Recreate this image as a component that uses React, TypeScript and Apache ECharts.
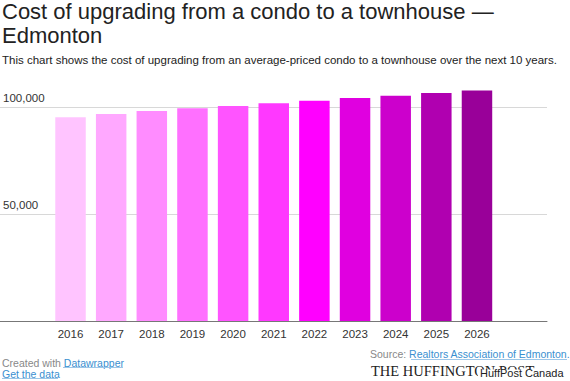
import React, { useEffect, useRef } from "react";
import * as echarts from "echarts";

const years = ["2016", "2017", "2018", "2019", "2020", "2021", "2022", "2023", "2024", "2025", "2026"];
const costs = [95300, 96900, 98300, 99500, 100600, 101900, 103100, 104300, 105400, 106700, 107900];
const barColors = ["#ffc4ff", "#ffa8ff", "#ff8cff", "#ff70ff", "#ff54ff", "#ff38ff", "#ff00ff", "#e000e0", "#cc00cc", "#b000b0", "#990099"];
const yTicks = [0, 50000, 100000];

const titleText = "Cost of upgrading from a condo to a townhouse —";
const titleText2 = "Edmonton";
const subtitleText = "This chart shows the cost of upgrading from an average-priced condo to a townhouse over the next 10 years.";

const FONT = "'Liberation Sans', Arial, sans-serif";
const LINK = "#3a8fd0";

export default function App() {
  const ref = useRef<HTMLDivElement>(null);
  useEffect(() => {
    if (!ref.current) return;
    const chart = echarts.init(ref.current, null, { renderer: "svg" });
    const baseY = 321;
    const topGrid = 107.3;
    const pxPer = (baseY - topGrid) / yTicks[yTicks.length - 1];
    const barMax = 110000;
    const barTop = baseY - barMax * pxPer;
    chart.setOption({
      animation: false,
      backgroundColor: "#ffffff",
      textStyle: { fontFamily: FONT },
      grid: [
        { left: 0, right: 23, top: topGrid, bottom: 381 - baseY },
        { left: 50.2, right: 72.7, top: barTop, bottom: 381 - baseY },
      ],
      xAxis: [
        {
          type: "value",
          gridIndex: 0,
          min: 0,
          max: 1,
          axisLine: { show: true, onZero: false, lineStyle: { color: "#777", width: 1 } },
          axisTick: { show: false },
          axisLabel: { show: false },
          splitLine: { show: false },
        },
        {
          type: "category",
          gridIndex: 1,
          data: years,
          axisLine: { show: false },
          axisTick: { show: false },
          axisLabel: { color: "#333", fontSize: 11.5, margin: 7, fontFamily: FONT },
        },
      ],
      yAxis: [
        {
          type: "value",
          gridIndex: 0,
          min: 0,
          max: 100000,
          interval: 50000,
          axisLine: { show: false },
          axisTick: { show: false },
          splitLine: { show: true, lineStyle: { color: "#d8d8d8", width: 1 } },
          axisLabel: {
            inside: true,
            margin: 3,
            verticalAlign: "bottom",
            padding: [0, 0, 3, 0],
            color: "#333",
            fontSize: 11.5,
            fontFamily: FONT,
            showMinLabel: false,
            formatter: (v: number) => v.toLocaleString("en-US"),
          },
        },
        {
          type: "value",
          gridIndex: 1,
          min: 0,
          max: barMax,
          show: false,
          splitLine: { show: false },
        },
      ],
      series: [
        {
          type: "bar",
          xAxisIndex: 1,
          yAxisIndex: 1,
          barCategoryGap: "25%",
          data: costs.map((v, i) => ({ value: v, itemStyle: { color: barColors[i] } })),
        },
      ],
      graphic: [
        {
          type: "text",
          left: 2,
          top: 0,
          style: { text: titleText, fill: "#222", font: `22px ${FONT}` },
        },
        {
          type: "text",
          left: 2,
          top: 24,
          style: { text: titleText2, fill: "#222", font: `22px ${FONT}` },
        },
        {
          type: "text",
          left: 2,
          top: 54,
          style: { text: subtitleText, fill: "#222", font: `11.5px ${FONT}` },
        },
        {
          type: "text",
          left: 2,
          top: 357,
          style: {
            text: "{g|Created with }{b|Datawrapper}",
            font: `10.5px ${FONT}`,
            rich: {
              g: { fill: "#888", font: `10.5px ${FONT}` },
              b: { fill: LINK, font: `10.5px ${FONT}` },
            },
          },
        },
        {
          type: "line",
          shape: { x1: 63, y1: 367.5, x2: 123, y2: 367.5 },
          style: { stroke: "#9cc6e8", lineWidth: 1 },
        },
        {
          type: "text",
          left: 2,
          top: 368.5,
          style: { text: "Get the data", fill: LINK, font: `10.5px ${FONT}` },
        },
        {
          type: "line",
          shape: { x1: 2, y1: 378.5, x2: 58, y2: 378.5 },
          style: { stroke: "#9cc6e8", lineWidth: 1 },
        },
        {
          type: "text",
          left: 370,
          top: 348.5,
          style: {
            text: "{g|Source: }{b|Realtors Association of Edmonton.}",
            font: `10.5px ${FONT}`,
            rich: {
              g: { fill: "#888", font: `10.5px ${FONT}` },
              b: { fill: LINK, font: `10.5px ${FONT}` },
            },
          },
        },
        {
          type: "line",
          shape: { x1: 411, y1: 359.5, x2: 567, y2: 359.5 },
          style: { stroke: "#9cc6e8", lineWidth: 1 },
        },
        {
          type: "text",
          left: 371,
          top: 363,
          style: { text: "THE HUFFINGTON POST", fill: "#222", font: `14.5px 'Liberation Serif', serif` },
        },
        {
          type: "rect",
          left: 478,
          top: 369.5,
          shape: { width: 92, height: 12 },
          style: { fill: "#ffffff" },
        },
        {
          type: "text",
          left: 480,
          top: 367.5,
          style: { text: "HuffPost Canada", fill: "#222", font: `11px ${FONT}` },
        },
      ],
    });
    return () => chart.dispose();
  }, []);
  return (
    <div
      ref={ref}
      style={{ position: "fixed", left: 0, top: 0, width: 570, height: 381, background: "#fff" }}
    />
  );
}
